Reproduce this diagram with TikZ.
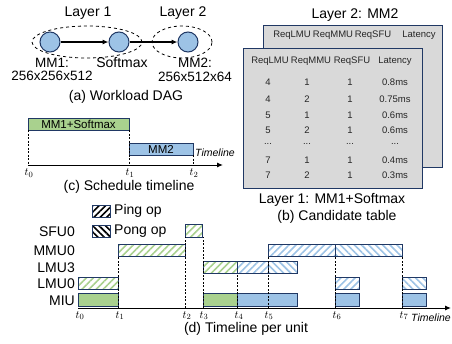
\documentclass[tikz,border=0pt]{standalone}
\usepackage{fontspec}
\setmainfont{Liberation Sans}
\usetikzlibrary{patterns.meta,arrows.meta}
\definecolor{navy}{RGB}{32,56,100}
\definecolor{gfill}{RGB}{169,209,142}
\definecolor{bfill}{RGB}{157,195,230}
\definecolor{tgray}{RGB}{217,217,217}
\begin{document}
\begin{tikzpicture}[x=1pt,y=-1pt,
  lab/.style={font=\fontsize{14}{16}\selectfont, inner sep=0pt},
  twoline/.style={font=\fontsize{13.5}{13.5}\selectfont, inner sep=0pt, align=center},
  tab/.style={font=\fontsize{9.5}{11}\selectfont, inner sep=0pt, text=black!85},
  op/.style={circle, draw=navy, fill=bfill, line width=1pt, minimum size=20pt, inner sep=0pt},
  bar/.style={draw=navy, line width=0.9pt},
  gping/.style={bar, pattern={Lines[angle=45,distance=5pt,line width=1.6pt]}, pattern color=gfill},
  bping/.style={bar, pattern={Lines[angle=45,distance=5pt,line width=1.6pt]}, pattern color=bfill},
  bpong/.style={bar, pattern={Lines[angle=-45,distance=5pt,line width=1.6pt]}, pattern color=bfill},
  gsolid/.style={bar, fill=gfill},
  bsolid/.style={bar, fill=bfill},
  vdash/.style={line width=0.7pt, dash pattern=on 2pt off 1.5pt},
  tl/.style={font=\fontsize{11}{11}\selectfont, inner sep=0pt},
  axisline/.style={line width=1pt, -{Latex[length=6pt,width=5pt]}},
  tbox/.style={draw=navy, fill=tgray, line width=1pt},
  small/.style={font=\fontsize{11.5}{12}\selectfont, inner sep=0pt},
  tlab/.style={font=\fontsize{10.5}{12}\selectfont\itshape, inner sep=0pt, anchor=west},
]
\useasboundingbox (0,0) rectangle (452,343);

% ---------- (a) Workload DAG ----------
\node[lab] (L1) at (88,13) {Layer 1};
\node[lab] (L2) at (183,13) {Layer 2};
\draw[dashed, line width=0.8pt] (87,42) ellipse [x radius=55pt, y radius=16pt];
\draw[dashed, line width=0.8pt] (182,42) ellipse [x radius=30pt, y radius=16pt];
\node[op] (n1) at (50,42) {};
\node[op] (n2) at (119,42) {};
\node[op] (n3) at (188,42) {};
\draw[line width=1.1pt, -{Latex[length=6pt,width=5pt]}] (n1) -- (n2);
\draw[line width=1.1pt, -{Latex[length=6pt,width=5pt]}] (n2) -- (n3);
\node[twoline] (m1) at (52,69.5) {MM1:\\256x256x512};
\node[lab] (sm) at (122,63) {Softmax};
\node[twoline] (m2) at (195,70) {MM2:\\256x512x64};
\node[lab] (capa) at (126,97) {(a) Workload DAG};

% ---------- (c) Schedule timeline ----------
\draw[gsolid] (28,118) rectangle (129,130);
\node[small] (c1) at (78.5,124) {MM1+Softmax};
\draw[bsolid] (129,143) rectangle (193,155);
\node[small] (c2) at (161,149) {MM2};
\draw[axisline] (28,165) -- (223,165);
\draw[vdash] (28,130) -- (28,165);
\draw[vdash] (129,130) -- (129,165);
\draw[vdash] (193,155) -- (193,165);
\node[tl] (ct0) at (29,173) {$t_0$};
\node[tl] (ct1) at (130,173) {$t_1$};
\node[tl] (ct2) at (194,173) {$t_2$};
\node[tlab] (ctl) at (195,153) {Timeline};
\node[lab] (capc) at (129,187) {(c) Schedule timeline};

% ---------- (b) Candidate table ----------
\node[lab] (t2t) at (355,15) {Layer 2: MM2};
\draw[tbox] (263,25) rectangle (442,167);
\node[tab] (bh1) at (292,35) {ReqLMU};
\node[tab] (bh2) at (333,35) {ReqMMU};
\node[tab] (bh3) at (373,35) {ReqSFU};
\node[tab] (bh4) at (419,35) {Latency};
\draw[tbox] (243,48) rectangle (422,188);
\node[tab] (fh1) at (270,61) {ReqLMU};
\node[tab] (fh2) at (311,61) {ReqMMU};
\node[tab] (fh3) at (352,61) {ReqSFU};
\node[tab] (fh4) at (395,61) {Latency};
\foreach \a/\b/\c/\d/\yy [count=\i] in {4/1/1/0.8ms/82, 4/2/1/0.75ms/99, 5/1/1/0.6ms/115, 5/2/1/0.6ms/130, 7/1/1/0.4ms/160, 7/2/1/0.3ms/175}{
  \node[tab] (ra\i) at (268,\yy) {\a};
  \node[tab] (rb\i) at (307,\yy) {\b};
  \node[tab] (rc\i) at (350,\yy) {\c};
  \node[tab] (rd\i) at (395,\yy) {\d};
}
\node[tab] (da) at (268,144) {...};
\node[tab] (db) at (307,144) {...};
\node[tab] (dc) at (350,144) {...};
\node[tab] (dd) at (395,144) {...};
\node[lab] (t1t) at (332,200) {Layer 1: MM1+Softmax};
\node[lab] (capb) at (337,217) {(b) Candidate table};

% ---------- (d) Timeline per unit ----------
\draw[bar, pattern={Lines[angle=45,distance=4.5pt,line width=1.6pt]}, pattern color=black] (92,205) rectangle (110,217);
\node[lab, anchor=west] (ping) at (114,211) {Ping op};
\draw[bar, pattern={Lines[angle=-45,distance=4.5pt,line width=1.6pt]}, pattern color=black] (92,225) rectangle (110,237);
\node[lab, anchor=west] (pong) at (114,231) {Pong op};

\node[lab, anchor=east] (u1) at (75,232) {SFU0};
\node[lab, anchor=east] (u2) at (75,251) {MMU0};
\node[lab, anchor=east] (u3) at (75,268) {LMU3};
\node[lab, anchor=east] (u4) at (75,284) {LMU0};
\node[lab, anchor=east] (u5) at (75,301) {MIU};

% MIU
\draw[gsolid] (78,293) rectangle (118,306);
\draw[gsolid] (203,293) rectangle (237,306);
\draw[bsolid] (237,293) rectangle (297,306);
\draw[bsolid] (335,293) rectangle (359,306);
\draw[bsolid] (402,293) rectangle (426,306);
% LMU0
\draw[gping] (78,277) rectangle (118,289);
\draw[bping] (335,277) rectangle (359,289);
\draw[bpong] (402,277) rectangle (426,289);
% LMU3
\draw[gping] (203,261) rectangle (237,273);
\draw[bping] (237,261) rectangle (268,273);
\draw[bpong] (268,261) rectangle (297,273);
% MMU0
\draw[gping] (118,244) rectangle (185,256);
\draw[bping] (268,244) rectangle (335,256);
\draw[bpong] (335,244) rectangle (402,256);
% SFU0
\draw[gping] (185,224) rectangle (202,237);

\draw[axisline] (78,308) -- (451,308);
\draw[vdash] (118,308) -- (118,256);
\draw[vdash] (185,308) -- (185,237);
\draw[vdash] (203,308) -- (203,237);
\draw[vdash] (237,308) -- (237,273);
\draw[vdash] (268,308) -- (268,256);
\draw[vdash] (335,308) -- (335,256);
\draw[vdash] (402,308) -- (402,256);

\node[tl] (dt0) at (80,315.5) {$t_0$};
\node[tl] (dt1) at (120,315.5) {$t_1$};
\node[tl] (dt2) at (187,315.5) {$t_2$};
\node[tl] (dt3) at (204,315.5) {$t_3$};
\node[tl] (dt4) at (239,315.5) {$t_4$};
\node[tl] (dt5) at (269,315.5) {$t_5$};
\node[tl] (dt6) at (337,315.5) {$t_6$};
\node[tl] (dt7) at (404,315.5) {$t_7$};
\node[tlab] (dtl) at (411,318) {Timeline};
\node[lab] (capd) at (246,329) {(d) Timeline per unit};
\end{tikzpicture}
\end{document}
